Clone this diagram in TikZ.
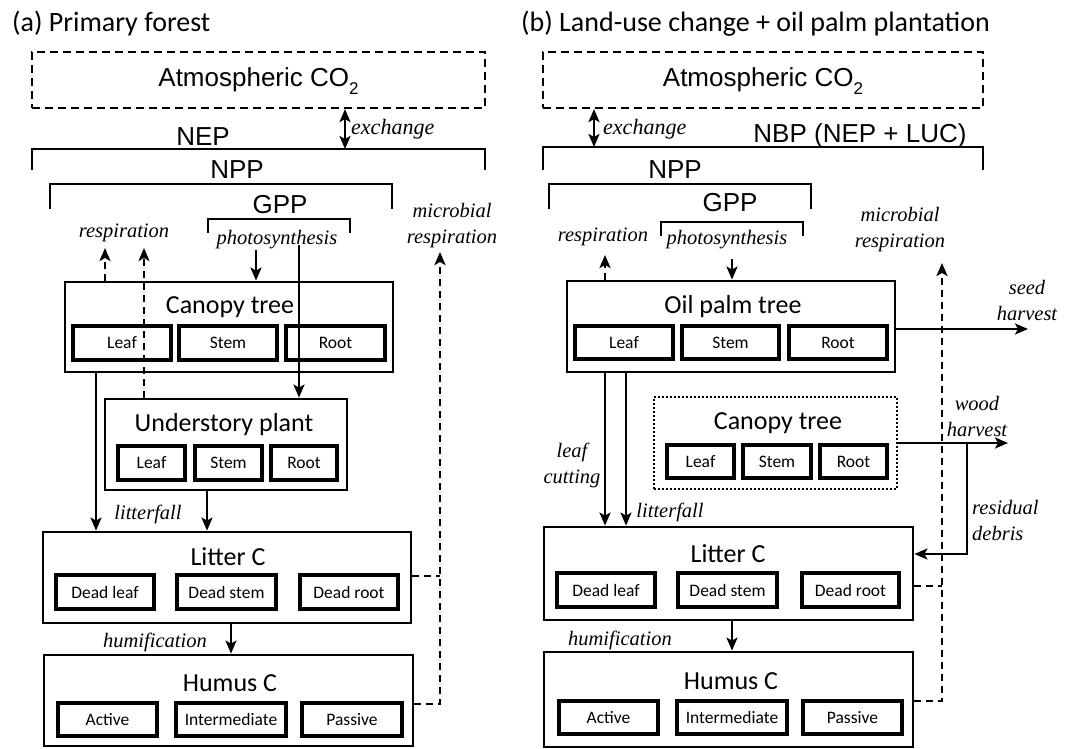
\documentclass[tikz,border=0pt]{standalone}
\usepackage{fontspec}
\newfontfamily\calfont{Carlito}
\newfontfamily\arialfont{Liberation Sans}
\newfontfamily\timesfont{Liberation Serif}
\usetikzlibrary{arrows.meta}
\begin{document}
\begin{tikzpicture}[x=1pt,y=-1pt,
 >={Stealth[length=13pt,width=11pt,inset=3pt]},
 big/.style={draw,line width=2.8pt,inner sep=0pt},
 atm/.style={draw,line width=2.2pt,dash pattern=on 8pt off 5pt,inner sep=0pt},
 dotbox/.style={draw,line width=2.8pt,dash pattern=on 2pt off 2pt,inner sep=0pt},
 sub/.style={draw,line width=3.2pt,inner sep=0pt,font=\calfont\fontsize{17.5}{20}\selectfont},
 boxlab/.style={font=\calfont\fontsize{26}{30}\selectfont,inner sep=0pt},
 ttl/.style={font=\calfont\fontsize{28}{32}\selectfont,inner sep=0pt,anchor=west},
 ar/.style={font=\arialfont\fontsize{26}{30}\selectfont,inner sep=0pt},
 it/.style={font=\timesfont\itshape\fontsize{20.5}{26}\selectfont,inner sep=0pt,align=center},
 conn/.style={line width=2.4pt,->},
 dconn/.style={line width=2.4pt,->,dash pattern=on 7pt off 5pt},
 dline/.style={line width=2.4pt,dash pattern=on 7pt off 5pt},
 brk/.style={line width=2.4pt},
]
\useasboundingbox (0,0) rectangle (1069,749);
\newcommand{\cotwo}{CO\raisebox{-0.3em}{\fontsize{17}{17}\selectfont 2}}

% ---------------- Panel (a) ----------------
\node[ttl] (titA) at (12,24) {(a) Primary forest};
\node[atm,minimum width=453pt,minimum height=56pt] (atmA) at (258.5,80) {};
\node[ar] (atmAt) at (258.5,81) {Atmospheric \cotwo};

\coordinate (exA) at (345,149);
\draw[conn,<->] (atmA.south -| exA) -- (exA);
\node[it,anchor=west,font=\timesfont\itshape\fontsize{22}{26}\selectfont] (exAt) at (351,129) {exchange};

\draw[brk] (32,170) -- (32,149) -- (485,149) -- (485,170);
\node[ar] (nepA) at (203,137) {NEP};
\draw[brk] (50,209) -- (50,184) -- (392,184) -- (392,209);
\node[ar] (nppA) at (237,170) {NPP};
\draw[brk] (208,233) -- (208,219) -- (350,219) -- (350,233);
\node[ar] (gppA) at (280,205) {GPP};

\node[it] (respA) at (124,233) {respiration};
\node[it] (photA) at (277,240) {photosynthesis};
\node[it] (micA) at (452,226) {microbial\\respiration};

% Canopy tree
\node[big,minimum width=328pt,minimum height=90pt] (canA) at (229,327) {};
\node[boxlab] (canAt) at (230,307) {Canopy tree};
\node[sub,minimum width=98pt,minimum height=34pt] (canAl) at (122,343) {Leaf};
\node[sub,minimum width=98pt,minimum height=34pt] (canAs) at (228,343) {Stem};
\node[sub,minimum width=99pt,minimum height=34pt] (canAr) at (335.5,343) {Root};

% Understory plant
\node[big,minimum width=242pt,minimum height=91pt] (undA) at (226,444.5) {};
\node[boxlab] (undAt) at (224,425) {Understory plant};
\node[sub,minimum width=67pt,minimum height=34pt] (undAl) at (151.5,463) {Leaf};
\node[sub,minimum width=67pt,minimum height=34pt] (undAs) at (228.5,463) {Stem};
\node[sub,minimum width=66pt,minimum height=34pt] (undAr) at (304,463) {Root};

% Litter C
\node[big,minimum width=368pt,minimum height=91pt] (litA) at (227,577.5) {};
\node[boxlab] (litAt) at (228,557) {Litter C};
\node[sub,minimum width=98pt,minimum height=34pt] (litAl) at (105,592) {Dead leaf};
\node[sub,minimum width=99pt,minimum height=34pt] (litAs) at (226.5,592) {Dead stem};
\node[sub,minimum width=98pt,minimum height=34pt] (litAr) at (349,592) {Dead root};

% Humus C
\node[big,minimum width=369pt,minimum height=91pt] (humA) at (228.5,700.5) {};
\node[boxlab] (humAt) at (230,683) {Humus C};
\node[sub,minimum width=99pt,minimum height=33pt] (humAa) at (107.5,719.5) {Active};
\node[sub,minimum width=110pt,minimum height=33pt] (humAi) at (231,719.5) {Intermediate};
\node[sub,minimum width=100pt,minimum height=33pt] (humAp) at (352,719.5) {Passive};

% connectors (a)
\coordinate (r1A) at (105,248);
\coordinate (r2A) at (144,248);
\draw[dconn] (canA.north -| r1A) -- (r1A);
\draw[dconn] (undA.north -| r2A) -- (r2A);
\coordinate (p1A) at (256,250);
\coordinate (p2A) at (299,245);
\draw[conn] (p1A) -- (canA.north -| p1A);
\draw[conn] (p2A) -- (undA.north -| p2A);
\coordinate (l1A) at (96,0);
\coordinate (l2A) at (207,0);
\draw[conn] (canA.south -| l1A) -- (litA.north -| l1A);
\draw[conn] (undA.south -| l2A) -- (litA.north -| l2A);
\node[it] (lfA) at (148,514) {litterfall};
\coordinate (hA) at (231,0);
\draw[conn] (litA.south -| hA) -- (humA.north -| hA);
\node[it] (hmA) at (155,642) {humification};
\coordinate (mA) at (440,252);
\coordinate (mAl) at (440,576);
\coordinate (mAh) at (440,704);
\draw[dline] (litA.east |- mAl) -- (mAl);
\draw[dconn] (humA.east |- mAh) -- (mAh) -- (mA);

% ---------------- Panel (b) ----------------
\node[ttl] (titB) at (521,24) {(b) Land-use change + oil palm plantation};
\node[atm,minimum width=440pt,minimum height=56pt] (atmB) at (763,80) {};
\node[ar] (atmBt) at (763,81) {Atmospheric \cotwo};

\coordinate (exB) at (594,147);
\draw[conn,<->] (atmB.south -| exB) -- (exB);
\node[it,anchor=west,font=\timesfont\itshape\fontsize{22}{26}\selectfont] (exBt) at (603,129) {exchange};

\draw[brk] (543,170) -- (543,147) -- (983,147) -- (983,170);
\node[ar] (nbpB) at (860,136) {NBP (NEP + LUC)};
\draw[brk] (549,209) -- (549,184) -- (811,184) -- (811,209);
\node[ar] (nppB) at (675,170) {NPP};
\draw[brk] (661,236) -- (661,222) -- (803,222) -- (803,236);
\node[ar] (gppB) at (730,203) {GPP};

\node[it] (respB) at (603,237) {respiration};
\node[it] (photB) at (727,240) {photosynthesis};
\node[it] (micB) at (900,230) {microbial\\respiration};

% Oil palm tree
\node[big,minimum width=328pt,minimum height=91pt] (oilB) at (731,326.5) {};
\node[boxlab] (oilBt) at (733,307) {Oil palm tree};
\node[sub,minimum width=98pt,minimum height=33pt] (oilBl) at (624,342.5) {Leaf};
\node[sub,minimum width=97pt,minimum height=33pt] (oilBs) at (730.5,342.5) {Stem};
\node[sub,minimum width=98pt,minimum height=33pt] (oilBr) at (838,342.5) {Root};

% Canopy tree (dotted)
\node[dotbox,minimum width=243pt,minimum height=92pt] (canB) at (775.5,443) {};
\node[boxlab] (canBt) at (778,423) {Canopy tree};
\node[sub,minimum width=67pt,minimum height=33pt] (canBl) at (700.5,461.5) {Leaf};
\node[sub,minimum width=68pt,minimum height=33pt] (canBs) at (777,461.5) {Stem};
\node[sub,minimum width=67pt,minimum height=33pt] (canBr) at (853.5,461.5) {Root};

% Litter C
\node[big,minimum width=369pt,minimum height=93pt] (litB) at (728.5,573.5) {};
\node[boxlab] (litBt) at (728,554) {Litter C};
\node[sub,minimum width=98pt,minimum height=34pt] (litBl) at (606,590) {Dead leaf};
\node[sub,minimum width=99pt,minimum height=34pt] (litBs) at (727.5,590) {Dead stem};
\node[sub,minimum width=97pt,minimum height=34pt] (litBr) at (850.5,590) {Dead root};

% Humus C
\node[big,minimum width=369pt,minimum height=95pt] (humB) at (728.5,699.5) {};
\node[boxlab] (humBt) at (731,681) {Humus C};
\node[sub,minimum width=99pt,minimum height=33pt] (humBa) at (608.5,717.5) {Active};
\node[sub,minimum width=110pt,minimum height=33pt] (humBi) at (732,717.5) {Intermediate};
\node[sub,minimum width=99pt,minimum height=33pt] (humBp) at (852.5,717.5) {Passive};

% connectors (b)
\coordinate (r1B) at (605,255);
\draw[dconn] (oilB.north -| r1B) -- (r1B);
\coordinate (p1B) at (732,259);
\draw[conn] (p1B) -- (oilB.north -| p1B);
\coordinate (sB) at (1028,329);
\draw[conn] (oilB.east |- sB) -- (sB);
\node[it] (seedB) at (1027,300) {seed\\harvest};
\coordinate (l1B) at (605,0);
\coordinate (l2B) at (626,0);
\draw[conn] (oilB.south -| l1B) -- (litB.north -| l1B);
\draw[conn] (oilB.south -| l2B) -- (litB.north -| l2B);
\node[it] (lcB) at (572,465) {leaf\\cutting};
\node[it] (lfB) at (670,512) {litterfall};
\coordinate (wB) at (1008,443);
\draw[conn] (canB.east |- wB) -- (wB);
\node[it] (woodB) at (977,416) {wood\\harvest};
\coordinate (rdB) at (967,443);
\coordinate (rdB2) at (967,554);
\draw[conn] (rdB) -- (rdB2) -- (litB.east |- rdB2);
\node[it,align=left,anchor=west] (resB) at (972,520) {residual\\debris};
\coordinate (hB) at (732,0);
\draw[conn] (litB.south -| hB) -- (humB.north -| hB);
\node[it] (hmB) at (620,640) {humification};
\coordinate (mB) at (942,263);
\coordinate (mBl) at (942,586);
\coordinate (mBh) at (942,701);
\draw[dline] (litB.east |- mBl) -- (mBl);
\draw[dconn] (humB.east |- mBh) -- (mBh) -- (mB);
\end{tikzpicture}
\end{document}
